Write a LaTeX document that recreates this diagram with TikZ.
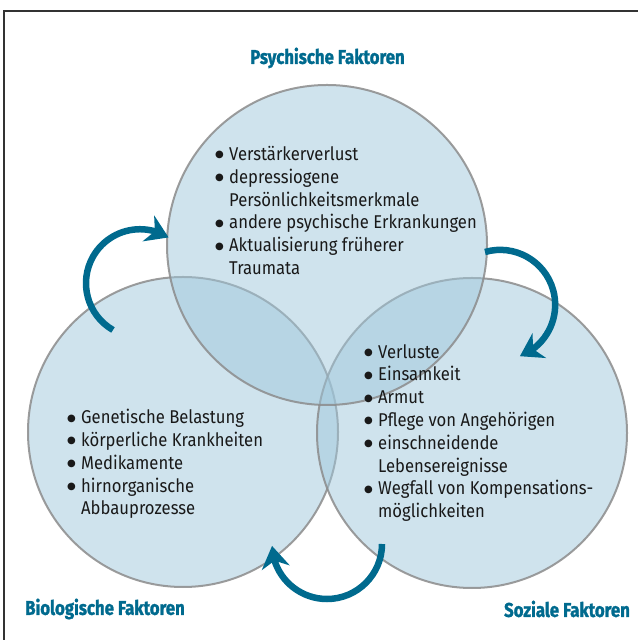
\documentclass[tikz,border=0pt]{standalone}
\usepackage{fontspec}
\setmainfont{Fira Sans}[FakeStretch=0.9]
\newfontfamily\headfont{Fira Sans}[FakeStretch=0.84,BoldFeatures={FakeBold=1.3}]
\newfontfamily\dotfont{DejaVu Sans}
\usetikzlibrary{arrows.meta,bending}
\definecolor{petrol}{RGB}{0,106,142}
\definecolor{vennfill}{RGB}{159,199,219}
\definecolor{venngray}{RGB}{140,140,140}
\definecolor{txt}{RGB}{25,25,25}
\newcommand{\bul}{\makebox[14bp][l]{\raisebox{2.6bp}{\dotfont\fontsize{10bp}{10bp}\selectfont ●}}}
\newcommand{\hang}{\hspace*{14bp}}

\begin{document}
\begin{tikzpicture}[x=1bp,y=1bp,
    venn/.style={circle,draw=venngray,line width=2bp,fill=vennfill,
      fill opacity=0.5,draw opacity=0.85,inner sep=0pt},
    lst/.style={anchor=north west,align=left,inner sep=0pt,text=txt,
      font=\fontsize{18.5bp}{22.8bp}\selectfont},
    head/.style={text=petrol,font=\headfont\bfseries\fontsize{20bp}{22bp}\selectfont},
    cyc/.style={draw=petrol,line width=6.5bp,
      -{Stealth[length=22bp,width=28bp,inset=7bp]}}]

  \useasboundingbox (0,0) rectangle (638,640);
  \draw[line width=2bp,draw=black!80] (4,629) rectangle (700,-60);

  % the three circles
  \node[venn,minimum size=310bp] (bio) at (183,208) {};
  \node[venn,minimum size=310bp] (soz) at (472,207) {};
  \node[venn,minimum size=320bp] (psy) at (327,395) {};

  \node[head] (psyhead) at (327.5,582) {Psychische Faktoren};
  \node[head] (biohead) at (105,31) {Biologische Faktoren};
  \node[head] (sozhead) at (567,31) {Soziale Faktoren};

  \node[lst] (psylist) at (215,494) {\bul Verstärkerverlust\\
    \bul depressiogene\\ \hang Persönlichkeitsmerkmale\\
    \bul andere psychische Erkrankungen\\
    \bul Aktualisierung früherer\\ \hang Traumata};
  \node[lst] (biolist) at (67,231) {\bul Genetische Belastung\\
    \bul körperliche Krankheiten\\ \bul Medikamente\\
    \bul hirnorganische\\ \hang Abbauprozesse};
  \node[lst] (sozlist) at (364,296) {\bul Verluste\\ \bul Einsamkeit\\
    \bul Armut\\ \bul Pflege von Angehörigen\\
    \bul einschneidende\\ \hang Lebensereignisse\\
    \bul Wegfall von Kompensations-\\ \hang möglichkeiten};

  % arrows between the circles
  \coordinate (biostart) at (113,310);
  \coordinate (psystart) at (485,388);
  \coordinate (sozstart) at (382,96);
  \draw[cyc] (biostart) arc[start angle=240,end angle=58,radius=54bp];
  \draw[cyc] (psystart) arc[start angle=106,end angle=-69,radius=55bp];
  \draw[cyc] (sozstart) arc[start angle=0,end angle=-178,radius=55bp];

\end{tikzpicture}
\end{document}
